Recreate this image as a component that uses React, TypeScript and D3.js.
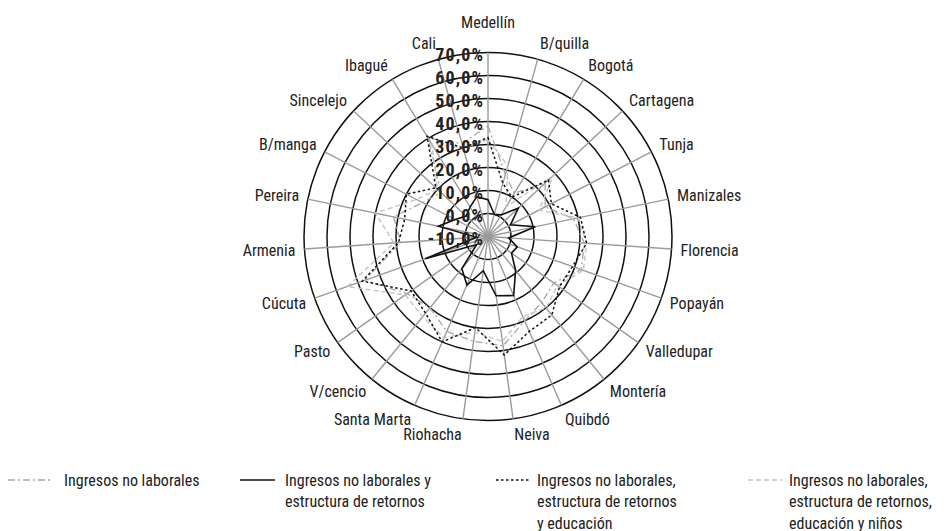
import React from 'react';
import * as d3 from 'd3';

const cities = ['Medellín', 'B/quilla', 'Bogotá', 'Cartagena', 'Tunja', 'Manizales', 'Florencia', 'Popayán', 'Valledupar', 'Montería', 'Quibdó', 'Neiva', 'Riohacha', 'Santa Marta', 'V/cencio', 'Pasto', 'Cúcuta', 'Armenia', 'Pereira', 'B/manga', 'Sincelejo', 'Ibagué', 'Cali'];
const tickValues = [-10, 0, 10, 20, 30, 40, 50, 60, 70];
const tickLabels = ['-10,0%', '0,0%', '10,0%', '20,0%', '30,0%', '40,0%', '50,0%', '60,0%', '70,0%'];

const noLaborales = [38, 18, 12, 24, 18, 28, 32, 33, 25, 27, 30, 38, 36, 35, 30, 33, 47, 28, 32, 22, 18, 40, 32];
const conRetornos = [6, 0, 1, 8, 1, 11, -1, 3.5, 2.5, 9, 18, 16, 5, 13, 8, -4, 19, -5, 12, 6, 3, 5, 8];
const conEducacion = [33, 14, 10, 26, 21, 31, 33, 29, 28, 34, 35, 42, 30, 40, 33, 31, 48, 29, 27, 30, 21, 41, 30];
const conNinos = [32, 22, 5, 29, 15, 30, 33, 34, 27, 30, 28, 36, 32, 38, 35, 34, 55, 31, 40, 25, 20, 37, 30];

const seriesNames = [
  ['Ingresos no laborales'],
  ['Ingresos no laborales y', 'estructura de retornos'],
  ['Ingresos no laborales,', 'estructura de retornos', 'y educación'],
  ['Ingresos no laborales,', 'estructura de retornos,', 'educación y niños'],
];

const FONT = "'Liberation Sans Narrow', 'Arial Narrow', 'Roboto Condensed', sans-serif";

const W = 949, H = 531;
const cx = 488, cy = 236.5, R = 184;

export default function App() {
  const r = d3.scaleLinear().domain([-10, 70]).range([0, R]);
  const a = d3.scaleLinear().domain([0, cities.length]).range([0, 2 * Math.PI]);
  const line = d3.lineRadial<number>().angle((_, i) => a(i)).radius(d => r(d)).curve(d3.curveLinearClosed);

  const styles = [
    { data: noLaborales, stroke: '#a6a6a6', dash: '7 3 2 3', w: 1.3 },
    { data: conNinos, stroke: '#c4c4c4', dash: '5 3', w: 1.4 },
    { data: conEducacion, stroke: '#111', dash: '2.5 2.5', w: 1.5 },
    { data: conRetornos, stroke: '#111', dash: null, w: 1.6 },
  ];
  const legendStyles = [styles[0], styles[3], styles[2], styles[1]];
  const legendX = [8, 240, 496, 748];
  const legendLen = [44, 35, 34, 34];
  const legendTextX = [64, 285, 537, 789];

  return (
    <div style={{ position: 'absolute', left: 0, top: 0 }}>
      <svg width={W} height={H} style={{ display: 'block', background: '#fff' }}>
        <g transform={`translate(${cx},${cy})`}>
          {tickValues.slice(1).map(t => (
            <circle key={t} r={r(t)} fill="none" stroke="#111" strokeWidth={1.5} />
          ))}
          {cities.map((c, i) => {
            const ang = a(i);
            return (
              <line key={c} x1={0} y1={0} x2={R * Math.sin(ang)} y2={-R * Math.cos(ang)} stroke="#9a9a9a" strokeWidth={1.4} />
            );
          })}
          {styles.map((s, k) => (
            <path key={k} d={line(s.data) || ''} fill="none" stroke={s.stroke} strokeWidth={s.w}
              strokeDasharray={s.dash || undefined} strokeLinejoin="miter" />
          ))}
          {tickValues.map((t, i) => (
            <text key={t} x={-4} y={-r(t) + 2} textAnchor="end" dominantBaseline="central"
              fontFamily={FONT} fontWeight="bold" fontSize={18} letterSpacing={1.1} fill="#222">{tickLabels[i]}</text>
          ))}
          {cities.map((c, i) => {
            const ang = a(i);
            const s = Math.sin(ang), co = Math.cos(ang);
            const rl = 193;
            const mid = Math.abs(s) < 0.05;
            const x = rl * s;
            const y = -rl * co - 7 * co - (mid ? 14 * co : 0);
            const anchor = mid ? 'middle' : s > 0 ? 'start' : 'end';
            return (
              <text key={c} x={x} y={y} textAnchor={anchor} dominantBaseline="central"
                fontFamily={FONT} fontSize={16} fill="#222">{c}</text>
            );
          })}
        </g>
        {seriesNames.map((names, k) => (
          <g key={k}>
            <line x1={legendX[k]} x2={legendX[k] + legendLen[k]} y1={480} y2={480} stroke={legendStyles[k].stroke}
              strokeWidth={legendStyles[k].w} strokeDasharray={legendStyles[k].dash || undefined} />
            {names.map((n, j) => (
              <text key={j} x={legendTextX[k]} y={480 + j * 21.5} dominantBaseline="central"
                fontFamily={FONT} fontSize={16} fill="#222">{n}</text>
            ))}
          </g>
        ))}
      </svg>
    </div>
  );
}
